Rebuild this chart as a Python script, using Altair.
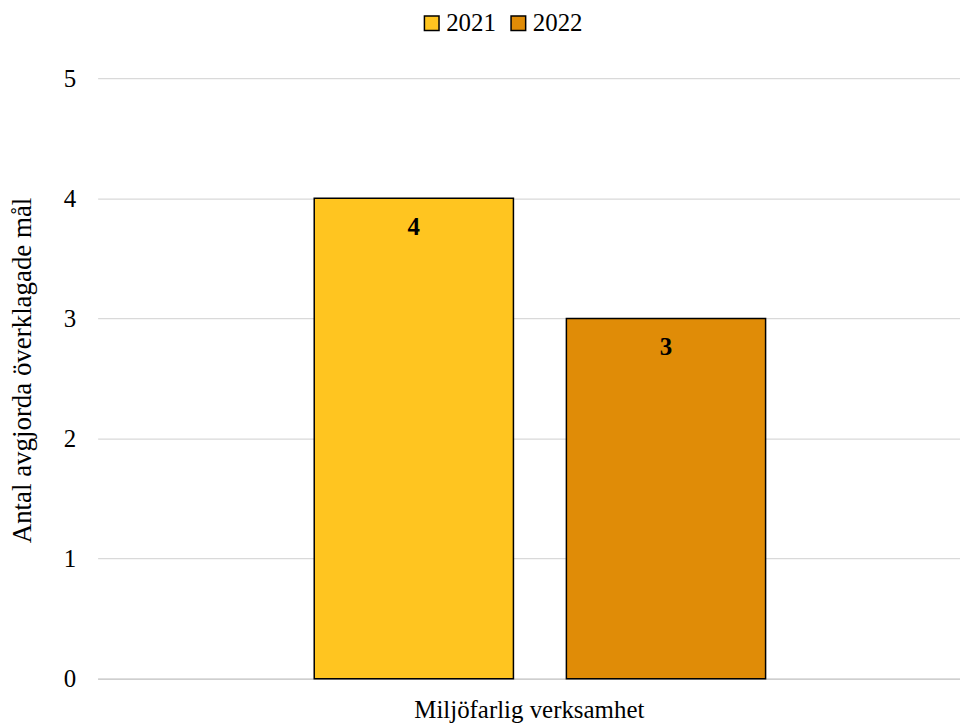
import altair as alt
import pandas as pd

category = "Miljöfarlig verksamhet"
years = ["2021", "2022"]
values = [4, 3]
colors = ["#FFC520", "#E08C07"]
y_ticks = [0, 1, 2, 3, 4, 5]

df = pd.DataFrame({"year": years, "value": values, "category": [category] * len(years)})

FONT = "Liberation Serif"

x = alt.X(
    "year:N",
    title=category,
    scale=alt.Scale(paddingInner=0.21, paddingOuter=0.815, align=0.527),
    axis=alt.Axis(labels=False, ticks=False, domain=True, domainColor="#cfcfcf",
                  domainWidth=1.5, titleFont=FONT, titleFontSize=25,
                  titleFontWeight="normal", titleColor="#000000", titlePadding=19),
)
y = alt.Y(
    "value:Q",
    title="Antal avgjorda överklagade mål",
    scale=alt.Scale(domain=[0, 5], nice=False),
    axis=alt.Axis(values=y_ticks, ticks=False, domain=False, gridColor="#d9d9d9",
                  gridWidth=1.3, labelFont=FONT, labelFontSize=25, labelColor="#000000",
                  labelPadding=22, titleFont=FONT, titleFontSize=27,
                  titleFontWeight="normal", titleColor="#000000", titlePadding=27,
                  titleY=293),
)

bars = alt.Chart(df).mark_bar(stroke="#000000", strokeWidth=1.5).encode(
    x=x,
    y=y,
    color=alt.Color(
        "year:N",
        scale=alt.Scale(domain=years, range=colors),
        legend=alt.Legend(
            title=None, orient="none", direction="horizontal",
            legendX=323, legendY=-68,
            symbolType="square", symbolSize=215, symbolStrokeColor="#000000",
            symbolStrokeWidth=1.5, symbolOpacity=1,
            labelFont=FONT, labelFontSize=25, labelColor="#000000",
            columnPadding=10, labelOffset=2,
        ),
    ),
)

labels = alt.Chart(df).mark_text(
    font=FONT, fontSize=25, fontWeight="bold", color="#000000",
    baseline="middle", dy=29,
).encode(x=x, y=y, text=alt.Text("value:Q"))

chart = (bars + labels).properties(
    width=866, height=603,
    autosize=alt.AutoSizeParams(type="none"),
    padding={"left": 90, "top": 69, "right": 0, "bottom": 45},
).configure_view(stroke=None)

chart.save("out.html", embed_options={"renderer": "svg", "actions": False})
